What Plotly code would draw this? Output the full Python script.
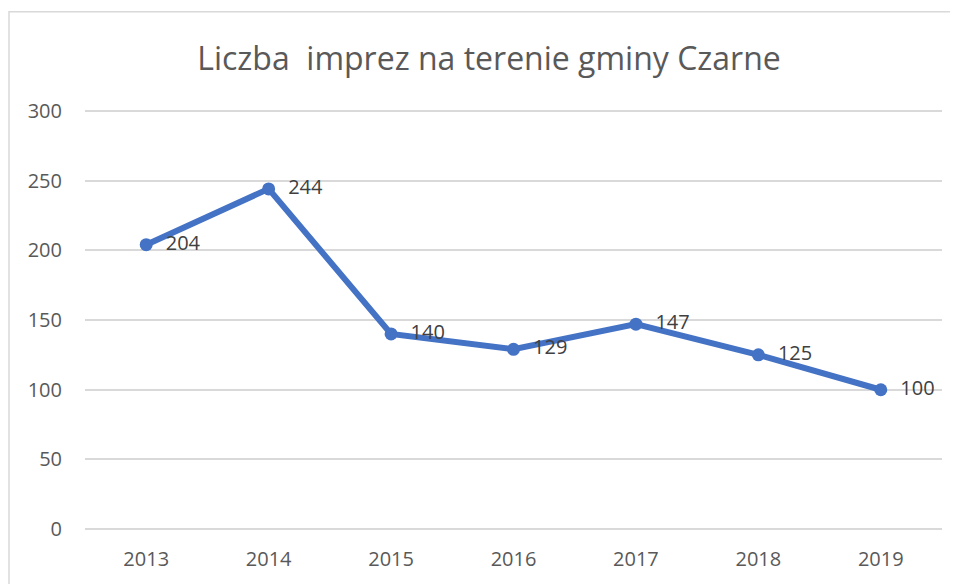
import plotly.graph_objects as go

years = ["2013", "2014", "2015", "2016", "2017", "2018", "2019"]
values = [204, 244, 140, 129, 147, 125, 100]
y_ticks = [0, 50, 100, 150, 200, 250, 300]
title_text = "Liczba  imprez na terenie gminy Czarne"

# page is rendered with an 8px body offset
OFF = 8
W, H = 958, 584
PAD = 2  # extra value units so edge gridlines stay visible
ppu = (529 - 111) / 300
pl, pr = 85 - OFF, 942 - OFF
pt, pb = 111 - OFF - PAD * ppu, 529 - OFF + PAD * ppu

fig = go.Figure()
fig.add_trace(go.Scatter(
    x=years, y=values,
    mode="lines+markers+text",
    line=dict(color="#4472C4", width=6),
    marker=dict(color="#4472C4", size=13),
    text=[f"  {v}" for v in values],
    textposition="middle right",
    textfont=dict(family="Open Sans", size=20, color="#404040"),
    cliponaxis=False,
    hoverinfo="x+y",
))

border_top = (pb - (12 - OFF)) / (pb - pt)

fig.update_layout(
    width=W, height=H,
    margin=dict(l=pl, r=W - pr, t=pt, b=H - pb),
    paper_bgcolor="white", plot_bgcolor="white",
    showlegend=False,
    title=dict(
        text=title_text,
        font=dict(family="Open Sans", size=32, color="#595959"),
        x=(489 - OFF) / W, xref="container", xanchor="center",
        y=1 - (59 - OFF) / H, yref="container", yanchor="middle",
    ),
    xaxis=dict(
        type="category", range=[-0.5, 6.5],
        showgrid=False, showline=False, zeroline=False,
        ticks="", ticklabelstandoff=int(round(16 - PAD * ppu)),
        tickfont=dict(family="Open Sans", size=20, color="#595959"),
    ),
    yaxis=dict(
        range=[-PAD, 300 + PAD], tickvals=y_ticks,
        showgrid=True, gridcolor="#D9D9D9", gridwidth=1.5,
        zeroline=False, showline=False,
        ticks="", ticklabelstandoff=22,
        tickfont=dict(family="Open Sans", size=20, color="#595959"),
    ),
    shapes=[dict(
        type="rect", xref="paper", yref="paper",
        x0=(9 - 85) / (pr - pl), x1=1.2,
        y0=-0.3, y1=border_top,
        line=dict(color="#D9D9D9", width=1.5), fillcolor="rgba(0,0,0,0)",
        layer="below",
    )],
)

fig.write_html("out.html")
